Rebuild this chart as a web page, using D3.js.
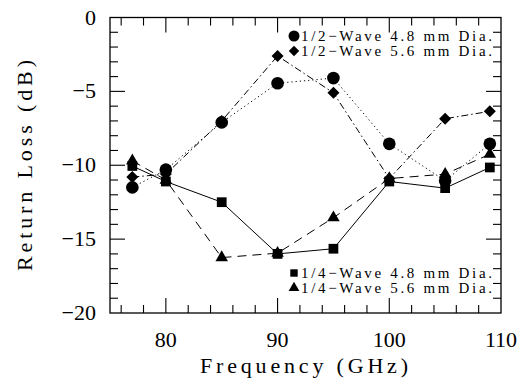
<!DOCTYPE html>
<html><head><meta charset="utf-8">
<script src="https://cdn.jsdelivr.net/npm/d3@7"></script>
<style>body{margin:0;background:#fff}svg{display:block}</style>
</head><body><svg id="c" width="529" height="379"></svg>
<script>
const freqs = [77, 80, 85, 90, 95, 100, 105, 109];
const halfWave48 = [-11.5, -10.3, -7.1, -4.45, -4.1, -8.55, -11.05, -8.55];
const halfWave56 = [-10.8, -10.6, -7.0, -2.6, -5.1, -10.9, -6.85, -6.35];
const quarterWave48 = [-10.05, -11.1, -12.5, -16.0, -15.65, -11.1, -11.55, -10.15];
const quarterWave56 = [-9.7, -11.0, -16.25, -15.95, -13.55, -10.9, -10.6, -9.25];
const seriesNames = ["1/2\u2212Wave 4.8 mm Dia.", "1/2\u2212Wave 5.6 mm Dia.", "1/4\u2212Wave 4.8 mm Dia.", "1/4\u2212Wave 5.6 mm Dia."];
const xTicks = [80, 90, 100, 110];
const yTicks = [0, -5, -10, -15, -20];

const svg = d3.select("#c");
const L = 110, R = 501, T = 17.5, B = 313;
const x = d3.scaleLinear().domain([75, 110]).range([L, R]);
const y = d3.scaleLinear().domain([-20, 0]).range([B, T]);

svg.append("rect").attr("x", L).attr("y", T).attr("width", R - L).attr("height", B - T)
  .attr("fill", "none").attr("stroke", "#000").attr("stroke-width", 1.3);

const g = svg.append("g").attr("stroke", "#000").attr("stroke-width", 1.1);
d3.range(76, 110, 2).forEach(v => {
  const len = (v % 10 === 0) ? 15 : 8;
  g.append("line").attr("x1", x(v)).attr("x2", x(v)).attr("y1", B).attr("y2", B - len);
  g.append("line").attr("x1", x(v)).attr("x2", x(v)).attr("y1", T).attr("y2", T + len);
});
d3.range(-19, 0, 1).forEach(v => {
  const len = (v % 5 === 0) ? 15 : 8;
  g.append("line").attr("y1", y(v)).attr("y2", y(v)).attr("x1", L).attr("x2", L + len);
  g.append("line").attr("y1", y(v)).attr("y2", y(v)).attr("x1", R).attr("x2", R - len);
});

const tickFont = "'Liberation Serif', 'DejaVu Serif', serif";
svg.append("g").selectAll("text").data(xTicks).join("text")
  .attr("x", d => x(d)).attr("y", 347).attr("text-anchor", "middle")
  .attr("font-family", tickFont).attr("font-size", 22).text(d => d);
svg.append("g").selectAll("text").data(yTicks).join("text")
  .attr("x", 96).attr("y", d => y(d) + 7).attr("text-anchor", "end")
  .attr("font-family", tickFont).attr("font-size", 22)
  .text(d => d < 0 ? "\u2212" + Math.abs(d) : d);

const titleFont = "'Liberation Serif', 'DejaVu Serif', serif";
svg.append("text").attr("x", 200).attr("y", 373)
  .attr("font-family", titleFont).attr("font-size", 22)
  .attr("textLength", 208).attr("lengthAdjust", "spacing").text("Frequency (GHz)");
svg.append("text").attr("transform", "translate(32,271) rotate(-90)")
  .attr("font-family", titleFont).attr("font-size", 22)
  .attr("textLength", 211).attr("lengthAdjust", "spacing").text("Return Loss (dB)");

const diamond = {draw(ctx, size) { const r = Math.sqrt(size / 2); ctx.moveTo(0, -r); ctx.lineTo(r, 0); ctx.lineTo(0, r); ctx.lineTo(-r, 0); ctx.closePath(); }};
const series = [
  {vals: halfWave48, dash: "1.2,3", sym: d3.symbolCircle, size: 125},
  {vals: halfWave56, dash: "7,3,1.5,3", sym: diamond, size: 72},
  {vals: quarterWave48, dash: null, sym: d3.symbolSquare, size: 95},
  {vals: quarterWave56, dash: "9,6", sym: d3.symbolTriangle, size: 68}
];
const line = d3.line().x(d => x(d[0])).y(d => y(d[1]));
series.forEach(s => {
  const pts = freqs.map((f, i) => [f, s.vals[i]]);
  svg.append("path").attr("d", line(pts)).attr("fill", "none").attr("stroke", "#000")
    .attr("stroke-width", 1).attr("stroke-dasharray", s.dash);
});
series.forEach(s => {
  const pts = freqs.map((f, i) => [f, s.vals[i]]);
  svg.append("g").selectAll("path").data(pts).join("path")
    .attr("transform", d => `translate(${x(d[0])},${y(d[1])})`)
    .attr("d", d3.symbol().type(s.sym).size(s.size)).attr("fill", "#000");
});

const legY = [36, 51, 273, 288];
const legSize = [95, 55, 55, 50];
series.forEach((s, i) => {
  svg.append("path").attr("transform", `translate(294,${legY[i]})`)
    .attr("d", d3.symbol().type(s.sym).size(legSize[i])).attr("fill", "#000");
  svg.append("text").attr("x", 301).attr("y", legY[i] + 5)
    .attr("font-family", titleFont).attr("font-size", 15)
    .attr("textLength", 191).attr("lengthAdjust", "spacing")
    .text(seriesNames[i]);
});
</script></body></html>
